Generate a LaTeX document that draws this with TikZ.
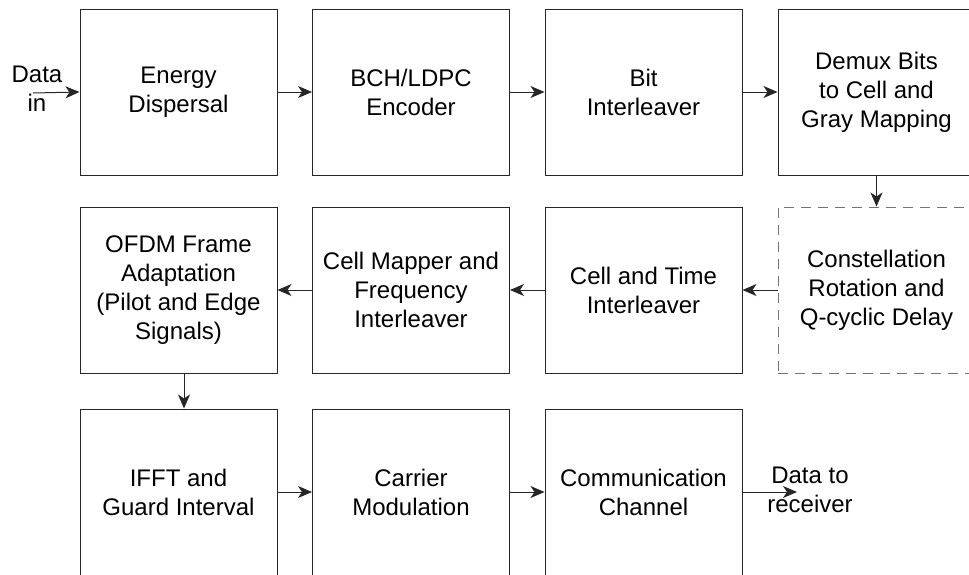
\documentclass[tikz,border=0pt]{standalone}
\usepackage{fontspec}
\setmainfont{Liberation Sans}
\usetikzlibrary{arrows.meta, positioning}

\begin{document}
\begin{tikzpicture}[>=Stealth, x=1pt, y=-1pt]
\tikzset{
    block/.style={rectangle, draw=black!85, line width=1pt, minimum width=197pt, minimum height=166pt, align=center, font=\fontsize{24}{29}\selectfont, inner sep=2pt},
    dashblock/.style={block, draw=black!55, dash pattern=on 10pt off 7pt},
    line/.style={->, >={Stealth[length=14pt, width=12pt, inset=4pt]}, line width=1pt, black!85},
    iotext/.style={align=center, font=\fontsize{24}{29}\selectfont, inner sep=0pt}
}
\useasboundingbox (0,0) rectangle (969,574);
\clip (0,0) rectangle (969,574);

% --- Top row ---
\node (ED) at (178.5, 92) [block] {Energy\\Dispersal};
\node (BCH) at (411, 92) [block] {BCH/LDPC\\Encoder};
\node (BI) at (643.5, 92) [block] {Bit\\Interleaver};
\node (DB) at (876.5, 92) [block] {Demux Bits\\to Cell and\\Gray Mapping};

% --- Middle row (right to left) ---
\node (CR) at (876.5, 290) [dashblock] {Constellation\\Rotation and\\Q-cyclic Delay};
\node (CTI) at (643.5, 290) [block] {Cell and Time\\Interleaver};
\node (CMF) at (411, 290) [block] {Cell Mapper and\\Frequency\\Interleaver};
\node (OFDM) at (178.5, 290) [block] {OFDM Frame\\Adaptation\\(Pilot and Edge\\Signals)};

% --- Bottom row ---
\node (IFFT) at (178.5, 492) [block] {IFFT and\\Guard Interval};
\node (CM) at (411, 492) [block] {Carrier\\Modulation};
\node (CC) at (643.5, 492) [block] {Communication\\Channel};

% input and output
\node (DIN) at (37, 89) [iotext] {Data\\in};
\coordinate (inStart) at (33, 93);
\node (DOUT) at (810, 490) [iotext] {Data to\\receiver};
\coordinate (outEnd) at (797, 492);

\draw[line] (inStart) -- (ED.west);
\draw[line] (ED) -- (BCH);
\draw[line] (BCH) -- (BI);
\draw[line] (BI) -- (DB);
\draw[line] (DB.south) -- (CR.north);
\draw[line] (CR) -- (CTI);
\draw[line] (CTI) -- (CMF);
\draw[line] (CMF) -- (OFDM);
\draw[line] ([xshift=5.5pt]OFDM.south) -- ([xshift=5.5pt]IFFT.north);
\draw[line] (IFFT) -- (CM);
\draw[line] (CM) -- (CC);
\draw[line] (CC.east |- outEnd) -- (outEnd);

\end{tikzpicture}
\end{document}
